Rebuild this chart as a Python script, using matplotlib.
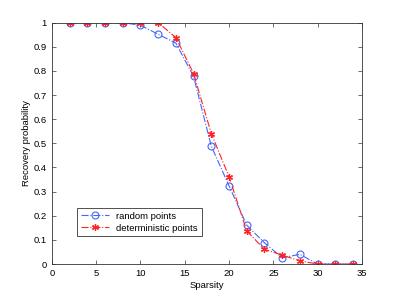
import matplotlib
matplotlib.use('Agg')
import matplotlib.pyplot as plt
from matplotlib.ticker import FormatStrFormatter
import numpy as np

plt.rcParams['font.family'] = ['Liberation Sans', 'DejaVu Sans']

sparsity = [2, 4, 6, 8, 10, 12, 14, 16, 18, 20, 22, 24, 26, 28, 30, 32, 34]
random_pts = [1, 1, 1, 1, 0.989, 0.952, 0.915, 0.777, 0.488, 0.324, 0.161,
              0.088, 0.026, 0.04, 0, 0, 0]
determ_pts = [1, 1, 1, 1, 1, 1, 0.938, 0.789, 0.54, 0.362, 0.137,
              0.061, 0.037, 0.013, 0, 0, 0]

fig = plt.figure(figsize=(3.99, 2.98), dpi=100)
ax = fig.add_axes([0.13, 0.114, 0.777, 0.81])

ax.plot(sparsity, random_pts, '-.', color='#4466ff', marker='o', mfc='none',
        mec='#4466ff', ms=5, lw=0.8, mew=0.8, label='random points')
ax.plot(sparsity, determ_pts, '-.', color='#ff2222', marker=(6, 2, 0), ms=5,
        lw=0.8, mew=0.9, label='deterministic points')

ax.set_xlim(0, 35)
ax.set_ylim(0, 1)
ax.set_xticks(np.arange(0, 36, 5))
ax.set_yticks(np.arange(0, 1.01, 0.1))
ax.yaxis.set_major_formatter(FormatStrFormatter('%g'))
ax.tick_params(direction='in', top=True, right=True, labelsize=6.8,
               length=3, width=0.5, color='#333333')
for s in ax.spines.values():
    s.set_linewidth(0.6)
    s.set_color('#333333')
ax.set_xlabel('Sparsity', fontsize=6.8, labelpad=2)
ax.set_ylabel('Recovery probability', fontsize=6.8, labelpad=2)

leg = ax.legend(loc='lower left', bbox_to_anchor=(0.065, 0.095), fontsize=6.8,
                fancybox=False, edgecolor='#333333', framealpha=1,
                handlelength=3, borderpad=0.4, labelspacing=0.3)
leg.get_frame().set_linewidth(0.6)

fig.savefig('out.png', dpi=100)
